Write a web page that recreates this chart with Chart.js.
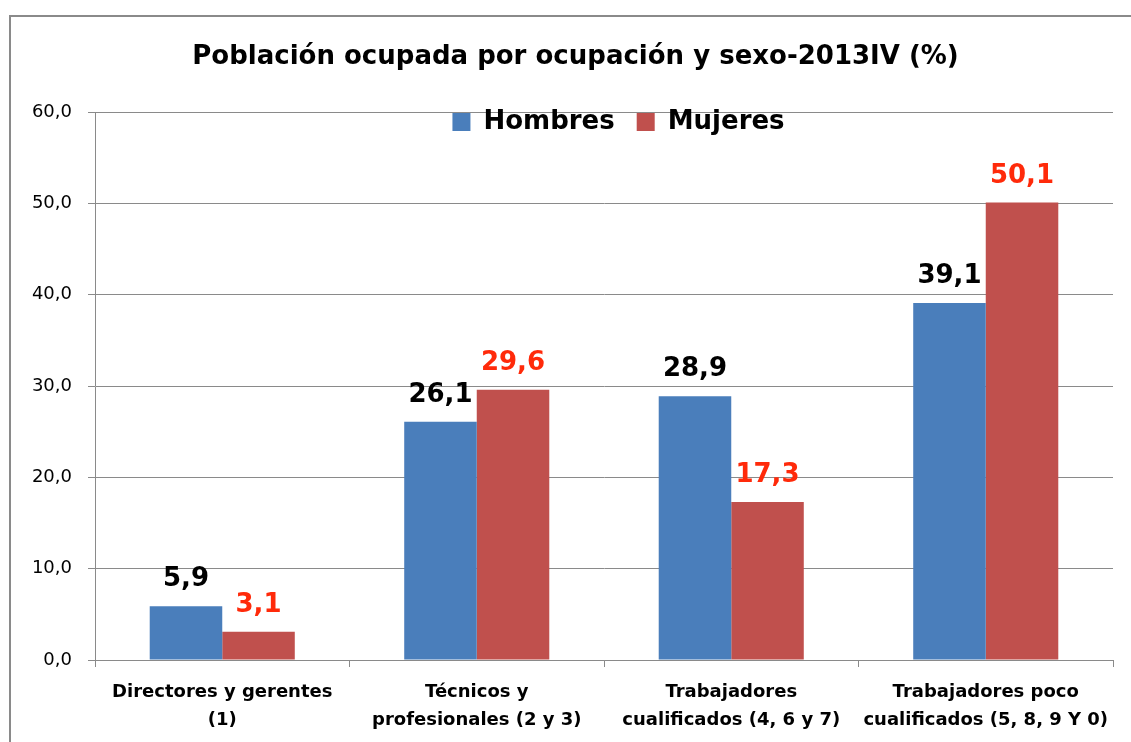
<!DOCTYPE html>
<html>
<head>
<meta charset="utf-8">
<script src="https://cdn.jsdelivr.net/npm/chart.js@4"></script>
<style>
  html, body { margin:0; padding:0; background:#fff; }
  #wrap { position:relative; width:1131px; height:742px; overflow:hidden; }
  #frame { position:absolute; left:9px; top:15px; width:1200px; height:800px;
           border-left:2px solid #8a8a8a; border-top:2px solid #8a8a8a; }
  canvas { position:absolute; left:0; top:0; }
</style>
</head>
<body>
<div id="wrap">
  <div id="frame"></div>
  <canvas id="c" width="1131" height="742"></canvas>
</div>
<script>
/* Población ocupada por ocupación y sexo - 2013IV */

const categories = [
  ['Directores y gerentes', '(1)'],
  ['Técnicos y', 'profesionales (2 y 3)'],
  ['Trabajadores', 'cualificados (4, 6 y 7)'],
  ['Trabajadores poco', 'cualificados (5, 8, 9 Y 0)'],
];
const hombres = [5.9, 26.1, 28.9, 39.1];
const mujeres = [3.1, 29.6, 17.3, 50.1];
const yTicks  = [0, 10, 20, 30, 40, 50, 60];

const FONT = '"DejaVu Sans", Verdana, sans-serif';
const fmt = v => v.toFixed(1).replace('.', ',');

// values above each bar, black for men and red for women
const valueLabels = {
  id: 'valueLabels',
  afterDatasetsDraw(chart) {
    const ctx = chart.ctx;
    ctx.save();
    ctx.font = `bold 26px ${FONT}`;
    ctx.textAlign = 'center';
    ctx.textBaseline = 'alphabetic';
    chart.data.datasets.forEach((ds, i) => {
      ctx.fillStyle = i === 0 ? '#000' : '#ff2a0a';
      chart.getDatasetMeta(i).data.forEach((bar, j) => {
        ctx.fillText(fmt(ds.data[j]), bar.x, bar.y - 20);
      });
    });
    ctx.restore();
  }
};

// legend sits inside the plot area, title nudged right like the original
const placeBoxes = {
  id: 'placeBoxes',
  afterLayout(chart) {
    const l = chart.legend;
    const h = l.bottom - l.top, w = l.right - l.left;
    l.top = 87; l.bottom = l.top + h;
    l.left = 62; l.right = l.left + w;
    const t = chart.titleBlock;
    t.left += 19; t.right += 19;
  }
};

new Chart(document.getElementById('c'), {
  type: 'bar',
  data: {
    labels: categories,
    datasets: [
      { label: 'Hombres', data: hombres, backgroundColor: '#4a7ebb', borderWidth: 0 },
      { label: 'Mujeres', data: mujeres, backgroundColor: '#c0504d', borderWidth: 0 },
    ],
  },
  options: {
    responsive: false,
    animation: false,
    layout: { padding: { top: 42, right: 18, bottom: 0, left: 0 } },
    datasets: { bar: { categoryPercentage: 0.57, barPercentage: 1.0 } },
    plugins: {
      title: {
        display: true,
        text: 'Población ocupada por ocupación y sexo-2013IV (%)',
        color: '#000',
        font: { family: FONT, size: 26, weight: 'bold' },
        padding: { top: 0, bottom: -19 },
      },
      legend: {
        position: 'top',
        align: 'center',
        labels: {
          color: '#000',
          font: { family: FONT, size: 26, weight: 'bold' },
          boxWidth: 18, boxHeight: 18, padding: 22,
        },
      },
      tooltip: { enabled: false },
    },
    scales: {
      x: {
        grid: { offset: true, drawOnChartArea: false, drawTicks: true, tickLength: 7, color: '#8a8a8a' },
        border: { color: '#8a8a8a', width: 1 },
        ticks: { color: '#000', padding: 11, maxRotation: 0,
                 font: { family: FONT, size: 18, weight: 'bold', lineHeight: 1.55 } },
        afterFit: s => { s.height = 82; },
      },
      y: {
        min: 0, max: 60,
        afterBuildTicks: s => { s.ticks = yTicks.map(v => ({ value: v })); },
        grid: { color: '#8a8a8a', tickLength: 7 },
        border: { color: '#8a8a8a', width: 1 },
        ticks: { color: '#000', padding: 16, callback: v => fmt(v),
                 font: { family: FONT, size: 18 } },
        afterFit: s => { s.width = 95; },
      },
    },
  },
  plugins: [valueLabels, placeBoxes],
});
</script>
</body>
</html>
